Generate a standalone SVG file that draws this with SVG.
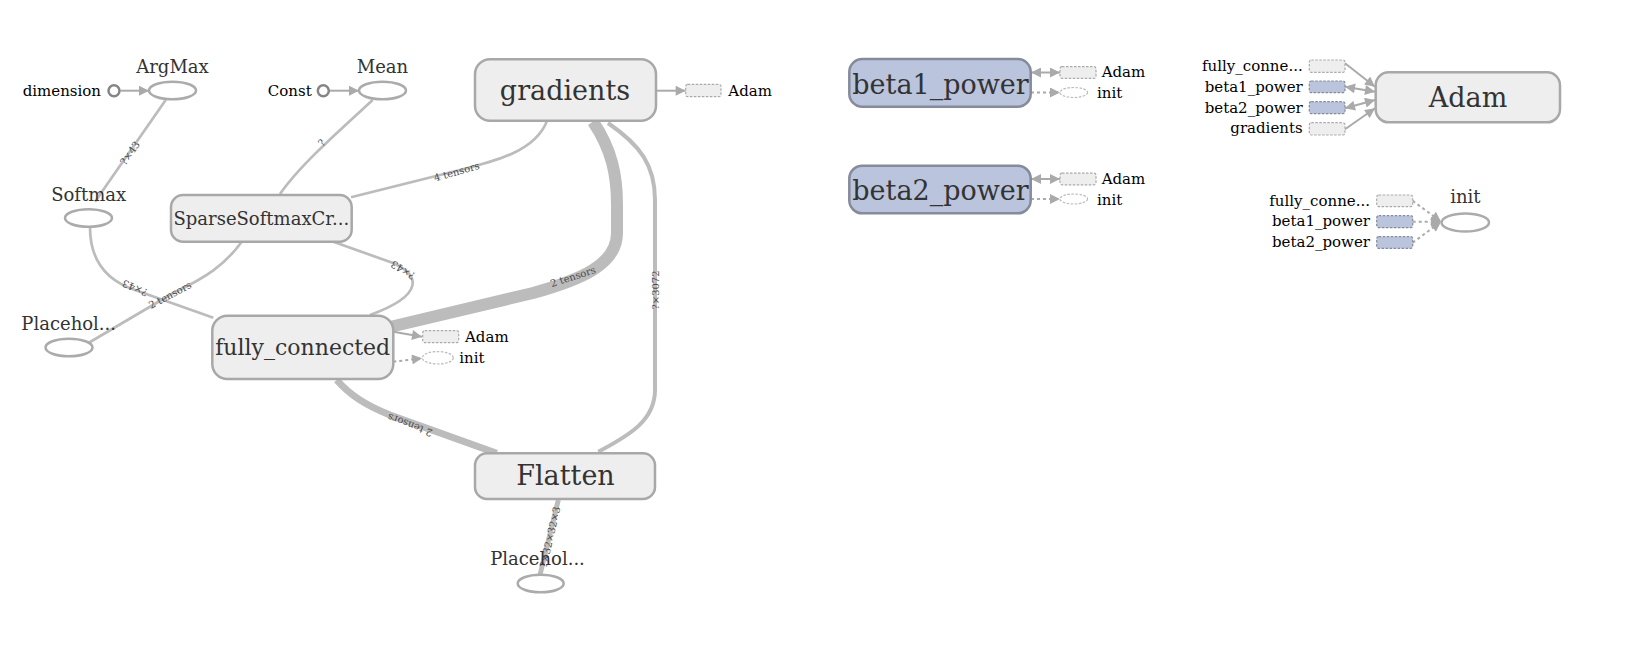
<svg xmlns="http://www.w3.org/2000/svg" width="1647" height="657" viewBox="0 0 1647 657">
<style>
.bg{fill:#ffffff}
.node{fill:#eeeeee;stroke:#a8a8a8;stroke-width:2.5}
.var{fill:#bac4dc;stroke:#858b9a;stroke-width:2.5}
.op{fill:#ffffff;stroke:#ababab;stroke-width:2.5}
.const{fill:#ffffff;stroke:#858585;stroke-width:2.5}
.lbl{font-family:"DejaVu Serif",serif;fill:#333333;text-anchor:middle}
.small{font-family:"DejaVu Serif",serif;fill:#000000;font-size:15px}
.edge{fill:none;stroke:#bcbcbc;stroke-width:2.7}
.elbl{font-family:"DejaVu Serif",serif;fill:#4a4a4a;font-size:10px;text-anchor:middle}
.stub{fill:#eeeeee;stroke:#aaaaaa;stroke-width:1.2;stroke-dasharray:2.5,1.5}
.stubv{fill:#bac4dc;stroke:#858b9a;stroke-width:1.2;stroke-dasharray:2.5,1.5}
.stubo{fill:#ffffff;stroke:#bbbbbb;stroke-width:1.2;stroke-dasharray:2.5,1.5}
.sarr{fill:none;stroke:#aaaaaa;stroke-width:2}
.sdot{fill:none;stroke:#aaaaaa;stroke-width:2;stroke-dasharray:3,3}
</style>
<defs>
<marker id="ah" viewBox="0 0 10 10" refX="10" refY="5" markerUnits="userSpaceOnUse" markerWidth="11" markerHeight="10" orient="auto">
<path d="M0,0 L10,5 L0,10 z" fill="#aaaaaa"/>
</marker>
<marker id="ahs" viewBox="0 0 10 10" refX="10" refY="5" markerUnits="userSpaceOnUse" markerWidth="11" markerHeight="10" orient="auto-start-reverse">
<path d="M0,0 L10,5 L0,10 z" fill="#aaaaaa"/>
</marker>
</defs>
<rect class="bg" x="0" y="0" width="1647" height="657"/>

<g id="connectors">
<path class="edge" d="M165.7,100 L95,201.7"/>
<path class="edge" d="M372.7,100 C340,130 300,165 280,194"/>
<path class="edge" d="M546.7,121.7 C535,150 500,160 460,170 L351,197.3"/>
<path class="edge" style="stroke-width:12" d="M593,121.7 C612,150 617,175 617,205 L617,233 C617,265 580,280 533,293 L390,327"/>
<path class="edge" style="stroke-width:4" d="M608,123 C640,145 655,165 655,200 L655,390 C655,420 630,435 598.3,451.7"/>
<path class="edge" d="M333.3,241.7 L393,263 C420,275 425,295 370,315"/>
<path class="edge" d="M90,227.3 C90,260 105,280 135,290 L213.3,317.7"/>
<path class="edge" d="M241.7,241.7 C225,265 205,278 175,292 L85,345"/>
<path class="edge" style="stroke-width:7" d="M336.7,380 C350,395 365,405 390,415 L496.7,453.3"/>
<path class="edge" style="stroke-width:5" d="M558.3,500 L540,575"/>

<text class="elbl" transform="translate(130,153) rotate(-55)" dy="3.5">?×43</text>
<text class="elbl" transform="translate(321.7,142.7) rotate(-48)" dy="3.5">?</text>
<text class="elbl" transform="translate(456.7,171.7) rotate(-16)" dy="3.5">4 tensors</text>
<text class="elbl" transform="translate(573,276.7) rotate(-18)" dy="3.5">2 tensors</text>
<text class="elbl" transform="translate(655.3,290) rotate(-90)" dy="3.5">?×3072</text>
<text class="elbl" transform="translate(403,270) rotate(212)" dy="3.5">?×43</text>
<text class="elbl" transform="translate(135,288) rotate(203)" dy="3.5">?×43</text>
<text class="elbl" transform="translate(170,295) rotate(-28)" dy="3.5">2 tensors</text>
<text class="elbl" transform="translate(410,425) rotate(201)" dy="3.5">2 tensors</text>
<text class="elbl" transform="translate(550,537) rotate(-77)" dy="3.5">?×32×32×3</text>

<path class="sarr" d="M120.7,90.7 L149,90.7" marker-end="url(#ah)"/>
<path class="sarr" d="M329.5,90.7 L359,90.7" marker-end="url(#ah)"/>
<path class="sarr" d="M656,90.7 L685.7,90.7" marker-end="url(#ah)"/>
<path class="sarr" d="M393.3,331.7 L422,336.7" marker-end="url(#ah)"/>
<path class="sdot" d="M393.3,361.7 L422,358.3" marker-end="url(#ah)"/>
<path class="sarr" d="M1031,72.5 L1060,72.5" marker-start="url(#ahs)" marker-end="url(#ah)"/>
<path class="sdot" d="M1031,92.5 L1060,92.5" marker-end="url(#ah)"/>
<path class="sarr" d="M1031,179 L1060,179" marker-start="url(#ahs)" marker-end="url(#ah)"/>
<path class="sdot" d="M1031,199 L1060,199" marker-end="url(#ah)"/>
<path class="sarr" d="M1345,63.3 L1375,86.7" marker-end="url(#ah)"/>
<path class="sarr" d="M1345,86.7 L1375,91.7" marker-start="url(#ahs)" marker-end="url(#ah)"/>
<path class="sarr" d="M1345,108.3 L1375,100" marker-start="url(#ahs)" marker-end="url(#ah)"/>
<path class="sarr" d="M1345,129.3 L1375,108.3" marker-end="url(#ah)"/>
<path class="sdot" d="M1412.7,200.8 L1441,221.7" marker-end="url(#ah)"/>
<path class="sdot" d="M1412.7,221.7 L1441,221.7" marker-end="url(#ah)"/>
<path class="sdot" d="M1412.7,242.7 L1441,221.7" marker-end="url(#ah)"/>
</g>

<g id="node-argmax">
<ellipse class="op" cx="172.5" cy="90.5" rx="23.5" ry="8.8"/>
<text class="lbl" x="172.5" y="73.3" font-size="18">ArgMax</text>
</g>
<g id="node-dimension">
<circle class="const" cx="114" cy="90.7" r="5.5"/>
<text class="small" x="101" y="96" text-anchor="end">dimension</text>
</g>
<g id="node-mean">
<ellipse class="op" cx="382.5" cy="90.5" rx="23.5" ry="8.8"/>
<text class="lbl" x="382.5" y="73.3" font-size="18">Mean</text>
</g>
<g id="node-const">
<circle class="const" cx="323.3" cy="90.7" r="5.5"/>
<text class="small" x="311.7" y="96" text-anchor="end">Const</text>
</g>
<g id="node-softmax">
<ellipse class="op" cx="88.5" cy="218" rx="23.5" ry="8.8"/>
<text class="lbl" x="88.7" y="201" font-size="18">Softmax</text>
</g>
<g id="node-placeholder1">
<ellipse class="op" cx="69" cy="347.5" rx="23.5" ry="8.8"/>
<text class="lbl" x="68.7" y="330" font-size="18">Placehol...</text>
</g>
<g id="node-sparse">
<rect class="node" x="171" y="195" width="180.7" height="46.7" rx="12"/>
<text class="lbl" x="261.3" y="225" font-size="18">SparseSoftmaxCr...</text>
</g>
<g id="node-gradients">
<rect class="node" x="475" y="59.3" width="181" height="61.4" rx="15"/>
<text class="lbl" x="565" y="100" font-size="27">gradients</text>
<rect class="stub" x="685.7" y="84.3" width="35.3" height="12.4" rx="2"/>
<text class="small" x="728.3" y="95.5">Adam</text>
</g>
<g id="node-fully_connected">
<rect class="node" x="212.3" y="315.7" width="181" height="63.3" rx="15"/>
<text class="lbl" x="302.7" y="355" font-size="22">fully_connected</text>
<rect class="stub" x="422.7" y="330.7" width="36" height="12" rx="2"/>
<text class="small" x="465" y="341.7">Adam</text>
<ellipse class="stubo" cx="437.8" cy="357.8" rx="15.5" ry="6.2"/>
<text class="small" x="459.3" y="362.7">init</text>
</g>
<g id="node-flatten">
<rect class="node" x="475" y="453.3" width="180" height="45.7" rx="12"/>
<text class="lbl" x="565.5" y="485" font-size="27">Flatten</text>
</g>
<g id="node-placeholder2">
<ellipse class="op" cx="540.7" cy="583.5" rx="23" ry="8.8"/>
<text class="lbl" x="537.5" y="565" font-size="18">Placehol...</text>
</g>
<g id="node-beta1_power">
<rect class="var" x="849.3" y="59" width="181.4" height="47.7" rx="13"/>
<text class="lbl" x="940.5" y="93.5" font-size="27">beta1_power</text>
<rect class="stub" x="1060" y="66.7" width="36" height="11.6" rx="2"/>
<text class="small" x="1101.7" y="77.3">Adam</text>
<ellipse class="stubo" cx="1073.8" cy="92.5" rx="13.8" ry="5"/>
<text class="small" x="1097" y="98.3">init</text>
</g>
<g id="node-beta2_power">
<rect class="var" x="849.3" y="165.7" width="181.4" height="47.6" rx="13"/>
<text class="lbl" x="940.5" y="200" font-size="27">beta2_power</text>
<rect class="stub" x="1060" y="173.2" width="36" height="11.6" rx="2"/>
<text class="small" x="1101.7" y="183.8">Adam</text>
<ellipse class="stubo" cx="1073.8" cy="199" rx="13.8" ry="5"/>
<text class="small" x="1097" y="204.8">init</text>
</g>
<g id="node-adam">
<rect class="node" x="1375.7" y="72.3" width="184.3" height="50" rx="13"/>
<text class="lbl" x="1468" y="106.7" font-size="27">Adam</text>
<rect class="stub" x="1309.3" y="60" width="35.7" height="12.3" rx="2"/>
<text class="small" x="1302.7" y="71" text-anchor="end">fully_conne...</text>
<rect class="stubv" x="1309.3" y="81" width="35.7" height="11.7" rx="2"/>
<text class="small" x="1302.7" y="92.3" text-anchor="end">beta1_power</text>
<rect class="stubv" x="1309.3" y="101.7" width="35.7" height="12" rx="2"/>
<text class="small" x="1302.7" y="112.7" text-anchor="end">beta2_power</text>
<rect class="stub" x="1309.3" y="122.7" width="35.7" height="12.3" rx="2"/>
<text class="small" x="1302.7" y="133.3" text-anchor="end">gradients</text>
</g>
<g id="node-init">
<ellipse class="op" cx="1465.3" cy="222.5" rx="23.7" ry="9"/>
<text class="lbl" x="1465.3" y="203.3" font-size="18">init</text>
<rect class="stub" x="1376.7" y="195" width="36" height="11.7" rx="2"/>
<text class="small" x="1370" y="205.7" text-anchor="end">fully_conne...</text>
<rect class="stubv" x="1376.7" y="215.7" width="36" height="12" rx="2"/>
<text class="small" x="1370" y="226" text-anchor="end">beta1_power</text>
<rect class="stubv" x="1376.7" y="236.7" width="36" height="11.7" rx="2"/>
<text class="small" x="1370" y="246.7" text-anchor="end">beta2_power</text>
</g>
</svg>
